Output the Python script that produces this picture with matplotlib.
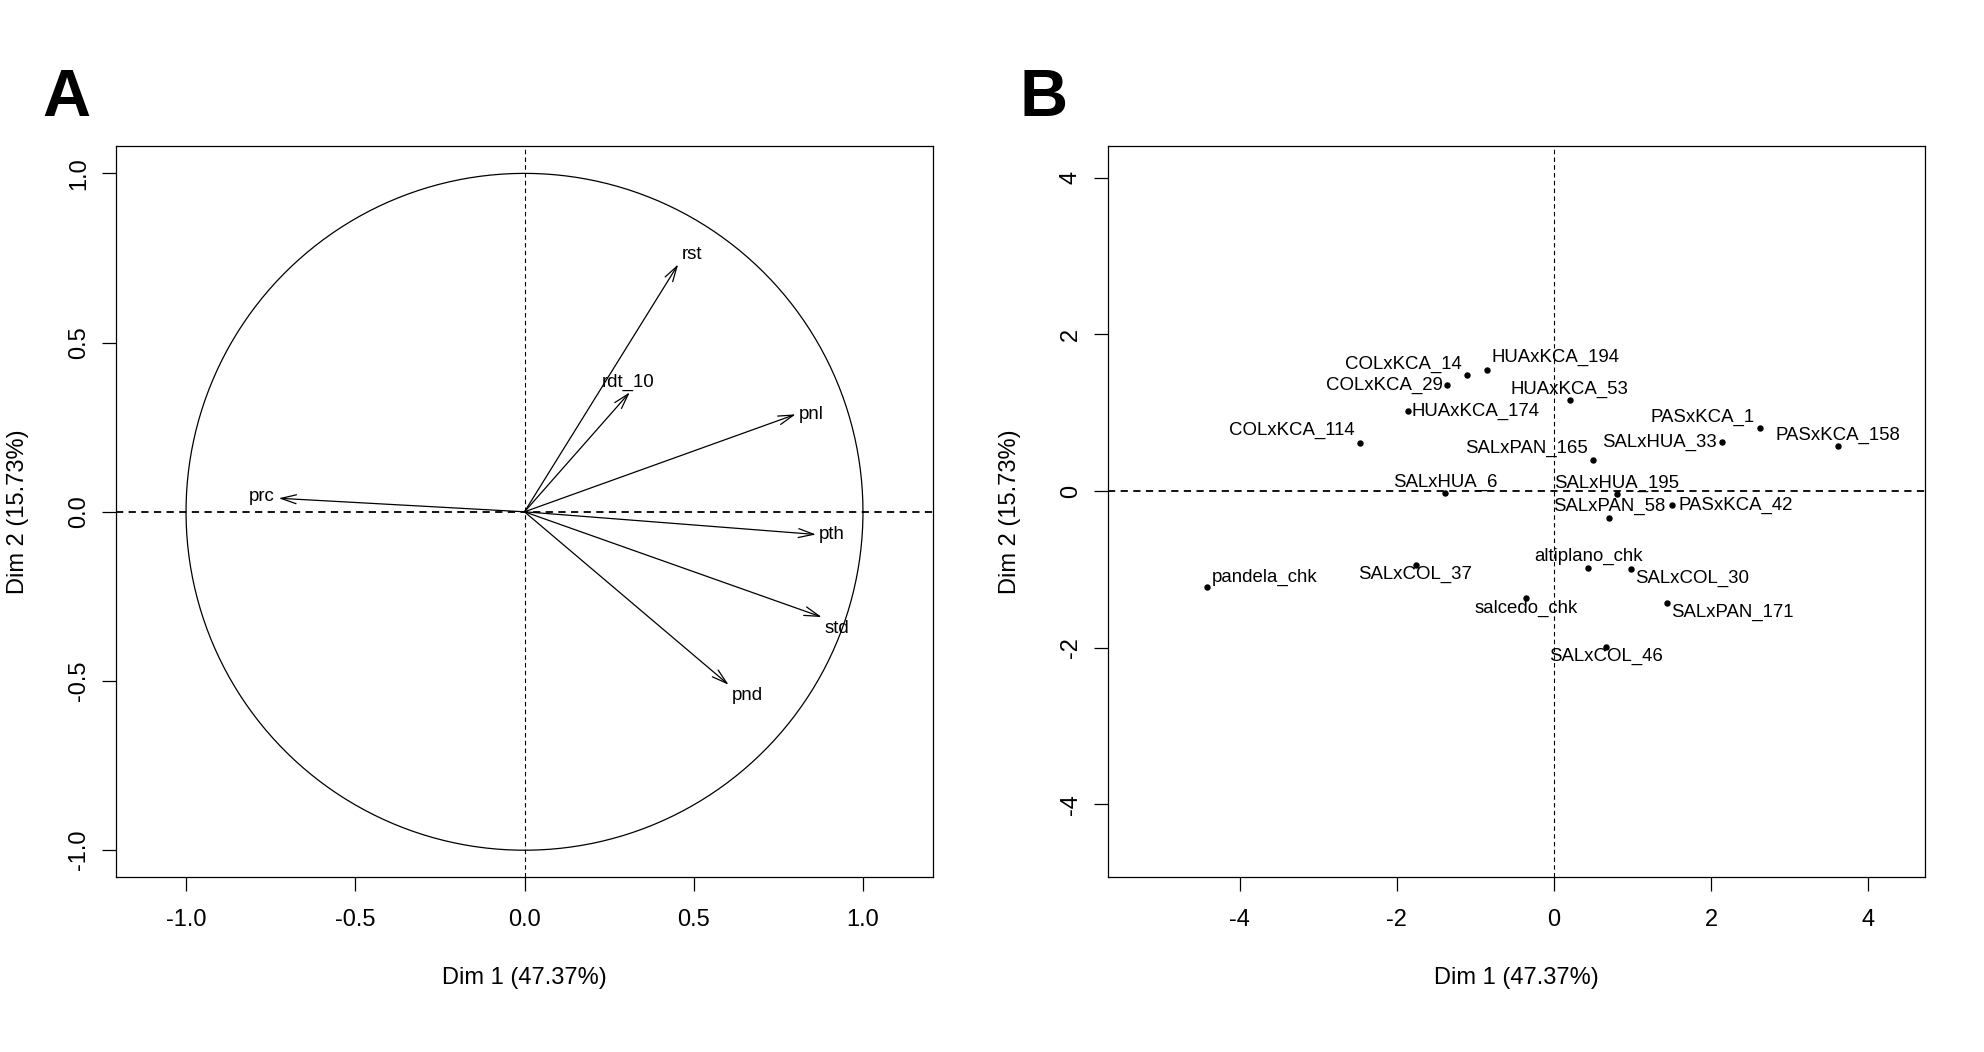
import numpy as np
import matplotlib
matplotlib.use('Agg')
import matplotlib.pyplot as plt
from matplotlib.patches import FancyArrowPatch

plt.rcParams['font.family'] = ['Liberation Sans', 'DejaVu Sans']
plt.rcParams['axes.unicode_minus'] = False

# panel A : variables
var_names = ['rst', 'rdt_10', 'pnl', 'prc', 'pth', 'std', 'pnd']
var_dim1 = [0.454, 0.311, 0.801, -0.726, 0.861, 0.878, 0.603]
var_dim2 = [0.731, 0.353, 0.288, 0.040, -0.067, -0.311, -0.511]

# panel B : individuals
ind_names = ['pandela_chk', 'SALxCOL_37', 'COLxKCA_114', 'HUAxKCA_174', 'COLxKCA_29',
             'COLxKCA_14', 'HUAxKCA_194', 'HUAxKCA_53', 'SALxPAN_165', 'SALxHUA_6',
             'SALxHUA_195', 'SALxPAN_58', 'PASxKCA_42', 'SALxHUA_33', 'PASxKCA_1',
             'PASxKCA_158', 'altiplano_chk', 'SALxCOL_30', 'salcedo_chk', 'SALxPAN_171',
             'SALxCOL_46']
ind_dim1 = [-4.41, -1.76, -2.47, -1.86, -1.36, -1.10, -0.85, 0.20, 0.50, -1.38,
            0.80, 0.70, 1.51, 2.14, 2.62, 3.62, 0.44, 0.98, -0.35, 1.44, 0.66]
ind_dim2 = [-1.23, -0.94, 0.61, 1.02, 1.35, 1.48, 1.55, 1.16, 0.40, -0.03,
            -0.04, -0.35, -0.18, 0.62, 0.80, 0.57, -0.98, -0.99, -1.37, -1.43, -1.99]

xlab = 'Dim 1 (47.37%)'
ylab = 'Dim 2 (15.73%)'

# label placement (offset in points, horizontal alignment)
var_lab = [((9.7, 7.0), 'center'), ((-1, 7.4), 'center'), ((2.3, 0), 'left'),
           ((-3.2, 1.4), 'right'), ((1.8, 0), 'left'), ((11, -8.4), 'center'),
           ((13.3, -7.9), 'center')]
ind_lab = [((3, 7), 'left'), ((0, -7), 'center'), ((-4, 9), 'right'), ((3, 0), 'left'),
           ((-3, 0), 'right'), ((-4, 8), 'right'), ((3, 9), 'left'), ((0, 8), 'center'),
           ((-4, 8), 'right'), ((0, 8), 'center'), ((0, 8), 'center'), ((0, 9), 'center'),
           ((4, 0), 'left'), ((-4, 0), 'right'), ((-4, 8), 'right'), ((0, 8), 'center'),
           ((0, 8), 'center'), ((3, -7), 'left'), ((0, -7), 'center'), ((3, -7), 'left'),
           ((0, -7), 'center')]

W, H = 1984, 1052
fig = plt.figure(figsize=(W / 100, H / 100), dpi=100)
ax1 = fig.add_axes([116.3 / W, 1 - 877.3 / H, 816.4 / W, 731 / H])
ax2 = fig.add_axes([1108.3 / W, 1 - 877.3 / H, 816.4 / W, 731 / H])


def style(ax):
    for s in ax.spines.values():
        s.set_linewidth(0.9)
    ax.tick_params(direction='out', length=10, width=0.9, labelsize=17, color='black')
    ax.tick_params(axis='x', pad=13)
    ax.tick_params(axis='y', pad=9, labelrotation=90)
    for t in ax.get_yticklabels():
        t.set_va('center')
    ax.set_xlabel(xlab, fontsize=17)
    ax.set_ylabel(ylab, fontsize=17)
    ax.xaxis.set_label_coords(0.5, -0.123)
    ax.yaxis.set_label_coords(-0.107, 0.5)


# ---- A
ax1.set_xlim(-1.206, 1.206)
ax1.set_ylim(-1.08, 1.08)
th = np.linspace(0, 2 * np.pi, 400)
ax1.plot(np.cos(th), np.sin(th), color='black', lw=0.9)
ax1.axhline(0, color='black', lw=1.3, ls=(0, (4, 3)))
ax1.axvline(0, color='black', lw=0.8, ls=(0, (4, 3)))
for i, nm in enumerate(var_names):
    arr = FancyArrowPatch((0, 0), (var_dim1[i], var_dim2[i]),
                          arrowstyle='->,head_length=0.55,head_width=0.16',
                          mutation_scale=20, color='black', lw=0.9,
                          shrinkA=0, shrinkB=0)
    ax1.add_patch(arr)
    off, ha = var_lab[i]
    ax1.annotate(nm, (var_dim1[i], var_dim2[i]), xytext=off, textcoords='offset points',
                 ha=ha, va='center', fontsize=13.4)
ax1.set_xticks([-1.0, -0.5, 0.0, 0.5, 1.0])
ax1.set_xticklabels(['-1.0', '-0.5', '0.0', '0.5', '1.0'])
ax1.set_yticks([-1.0, -0.5, 0.0, 0.5, 1.0])
ax1.set_yticklabels(['-1.0', '-0.5', '0.0', '0.5', '1.0'])
style(ax1)

# ---- B
ax2.set_xlim(-5.67, 4.72)
ax2.set_ylim(-4.93, 4.40)
ax2.axhline(0, color='black', lw=1.3, ls=(0, (4, 3)))
ax2.axvline(0, color='black', lw=0.8, ls=(0, (4, 3)))
ax2.plot(ind_dim1, ind_dim2, 'o', color='black', ms=3.6, ls='none')
for i, nm in enumerate(ind_names):
    off, ha = ind_lab[i]
    ax2.annotate(nm, (ind_dim1[i], ind_dim2[i]), xytext=off, textcoords='offset points',
                 ha=ha, va='center', fontsize=13.4)
ax2.set_xticks([-4, -2, 0, 2, 4])
ax2.set_yticks([-4, -2, 0, 2, 4])
style(ax2)

fig.text(42 / W, 1 - 116 / H, 'A', fontsize=48, fontweight='bold', ha='left', va='baseline')
fig.text(1020 / W, 1 - 116 / H, 'B', fontsize=48, fontweight='bold', ha='left', va='baseline')

fig.savefig('out.png', dpi=100)
